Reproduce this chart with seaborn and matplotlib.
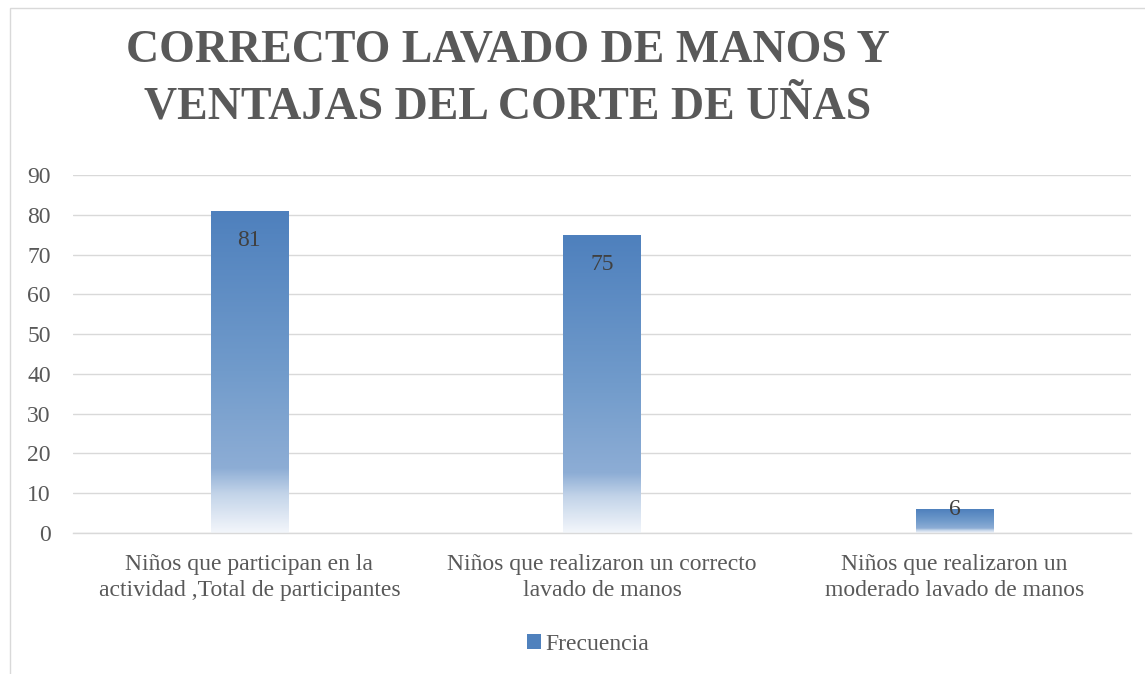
import numpy as np
import pandas as pd
import matplotlib
matplotlib.use("Agg")
import matplotlib.pyplot as plt
import seaborn as sns
from matplotlib.colors import LinearSegmentedColormap
from matplotlib.patches import Rectangle, Patch

categories = [
    "Niños que participan en la\nactividad ,Total de participantes",
    "Niños que realizaron un correcto\nlavado de manos",
    "Niños que realizaron un\nmoderado lavado de manos",
]
values = [81, 75, 6]
series_name = "Frecuencia"
title = "CORRECTO LAVADO DE MANOS Y\nVENTAJAS DEL CORTE DE UÑAS"
yticks = [0, 10, 20, 30, 40, 50, 60, 70, 80, 90]

sns.set_theme(style="white")
plt.rcParams['font.family'] = ['Liberation Serif', 'DejaVu Serif']

W, H = 1145, 674
fig = plt.figure(figsize=(W / 100, H / 100), dpi=100)
ax = fig.add_axes([73 / W, 1 - 533 / H, (1131 - 73) / W, (533 - 175) / H])

df = pd.DataFrame({"cat": categories, "val": values})
sns.barplot(data=df, x="cat", y="val", ax=ax, width=0.22, color="#4f81bd",
            edgecolor="none", saturation=1)

cmap = LinearSegmentedColormap.from_list(
    "grad",
    [(0.0, "#4e80bd"), (0.5, "#719bcb"), (0.8, "#8dadd5"),
     (0.88, "#c3d4e9"), (1.0, "#f3f6fb")])
grad = np.linspace(0, 1, 256).reshape(-1, 1)
for p in ax.patches:
    x0, y0 = p.get_x(), p.get_y()
    w, h = p.get_width(), p.get_height()
    im = ax.imshow(grad, cmap=cmap, extent=[x0, x0 + w, y0, y0 + h],
                   aspect="auto", origin="upper", zorder=2)
    im.set_clip_path(p)
    p.set_facecolor("none")

ax.set_xlim(-0.5, 2.5)
ax.set_ylim(0, 90)
ax.set_yticks(yticks)
ax.yaxis.grid(True, color="#d9d9d9", linewidth=1)
ax.set_axisbelow(True)
for s in ["top", "right", "left"]:
    ax.spines[s].set_visible(False)
ax.spines["bottom"].set_color("#d9d9d9")
ax.spines["bottom"].set_linewidth(1)
ax.tick_params(axis="both", length=0, labelcolor="#595959")
ax.tick_params(axis="y", pad=16, labelsize=17)
ax.tick_params(axis="x", pad=15, labelsize=17)
for t in ax.get_xticklabels():
    t.set_linespacing(1.35)
ax.set_xlabel("")
ax.set_ylabel("")

# data labels (inside end)
px_per_unit = (533 - 175) / 90
for i, v in enumerate(values):
    off = -30 if v * px_per_unit > 60 else 0
    ax.annotate(str(v), (i, v), xytext=(0, off * 0.72), textcoords="offset points",
                ha="center", va="center", fontsize=17, color="#404040", zorder=5)

fig.text(508 / W, 1 - 79 / H, title, ha="center", va="center",
         fontsize=33, fontweight="bold", color="#595959", linespacing=1.45)

handles = [Patch(facecolor="#4f81bd", edgecolor="none")]
fig.legend(handles, [series_name], loc="center", bbox_to_anchor=(588 / W, 1 - 644 / H),
           frameon=False, fontsize=17, handlelength=0.6, handleheight=0.6,
           handletextpad=0.2, labelcolor="#595959")

fig.patches.append(Rectangle((10 / W, -0.01), 1.0, 1 - 8 / H + 0.01,
                             transform=fig.transFigure, fill=False,
                             edgecolor="#d9d9d9", linewidth=1, zorder=0))

fig.savefig("out.png", dpi=100)
